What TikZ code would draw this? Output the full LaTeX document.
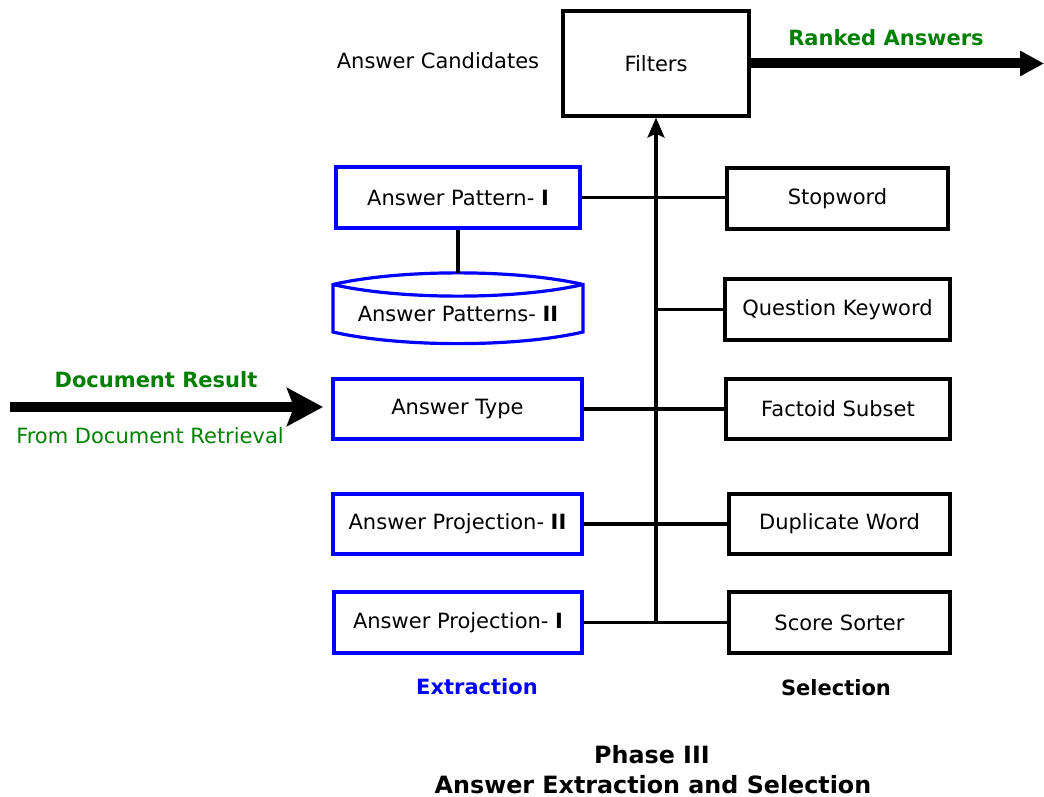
\documentclass[tikz,border=0pt]{standalone}
\usepackage{fontspec}
\setmainfont{DejaVu Sans}
\usetikzlibrary{arrows.meta}
\definecolor{dgreen}{RGB}{0,128,0}
\definecolor{eblue}{RGB}{0,0,255}
\begin{document}
\begin{tikzpicture}[x=1pt,y=-1pt,
  every node/.style={font=\fontsize{21}{24}\selectfont, inner sep=0pt},
  sbox/.style={draw=black, line width=3.2pt, fill=white},
  ebox/.style={draw=eblue, line width=3.2pt, fill=white},
  conn/.style={line width=3.2pt, draw=black},
  lbl/.style={font=\fontsize{21}{24}\selectfont\bfseries},
  ttl/.style={font=\fontsize{23.8}{28}\selectfont\bfseries, anchor=base}
]
\useasboundingbox (0,0) rectangle (1044,797);

% selection boxes
\node[sbox, minimum width=186pt, minimum height=105pt] (filters) at (656,63.5) {Filters};
\node[sbox, minimum width=221pt, minimum height=61pt] (stop) at (837.5,198.5) {Stopword};
\node[sbox, minimum width=225pt, minimum height=61pt] (qk) at (837.5,309.5) {Question Keyword};
\node[sbox, minimum width=224pt, minimum height=60pt] (fact) at (838,409) {Factoid Subset};
\node[sbox, minimum width=221pt, minimum height=60pt] (dup) at (839.5,524) {Duplicate Word};
\node[sbox, minimum width=221pt, minimum height=61pt] (score) at (839.5,622.5) {Score Sorter};

% extraction boxes
\node[ebox, minimum width=244pt, minimum height=61pt] (pat1) at (458,197.5) {Answer Pattern- \textbf{I}};
\node[ebox, minimum width=249pt, minimum height=60pt] (atype) at (457.5,409) {Answer Type};
\node[ebox, minimum width=249pt, minimum height=60pt] (proj2) at (457.5,524) {Answer Projection- \textbf{II}};
\node[ebox, minimum width=248pt, minimum height=61pt] (proj1) at (458,622.5) {Answer Projection- \textbf{I}};

% storage shape
\draw[eblue, line width=3.2pt, fill=white]
  (333,284.5) .. controls (400,269) and (516,269) .. (583,284.5)
  -- (583,332) .. controls (516,347.5) and (400,347.5) .. (333,332) -- cycle;
\draw[eblue, line width=3.2pt]
  (333,284.5) .. controls (400,300) and (516,300) .. (583,284.5);
\node (pat2) at (458,314) {Answer Patterns- \textbf{II}};
\coordinate (pat2top) at (458,272.5);

% connectors
\coordinate (junc) at (656,622.5);
\coordinate (qkj) at (656,309.5);
\draw[conn] (pat1.south) -- (pat2top);
\draw[conn] (pat1.east) -- (pat1.east -| stop.west);
\draw[conn] (qk.west) -- (qkj);
\draw[conn] (atype.east) -- (fact.west);
\draw[conn] (proj2.east) -- (dup.west);
\draw[conn] (proj1.east) -- (score.west);
\draw[conn, -{Stealth[length=20pt,width=17pt,inset=4pt]}] (junc) -- (filters.south);

% big arrows
\coordinate (docstart) at (10,407);
\coordinate (docend) at (323,407);
\coordinate (rankend) at (1044,63.5);
\draw[line width=10pt, -{Stealth[length=36pt,width=38pt,inset=7pt]}] (docstart) -- (docend);
\draw[line width=10pt, -{Triangle[length=24pt,width=24pt]}] (filters.east) -- (rankend);

% labels
\node (cand) at (438,61) {Answer Candidates};
\node[lbl, text=dgreen] (ranked) at (886,38) {Ranked Answers};
\node[lbl, text=dgreen] (docres) at (156,380) {Document Result};
\node[text=dgreen] (fromdoc) at (150,436) {From Document Retrieval};
\node[lbl, text=eblue] (extr) at (477,687) {Extraction};
\node[lbl] (sel) at (836,688) {Selection};
\node[ttl] (title1) at (652,763.5) {Phase III};
\node[ttl] (title2) at (653,793) {Answer Extraction and Selection};
\end{tikzpicture}
\end{document}
